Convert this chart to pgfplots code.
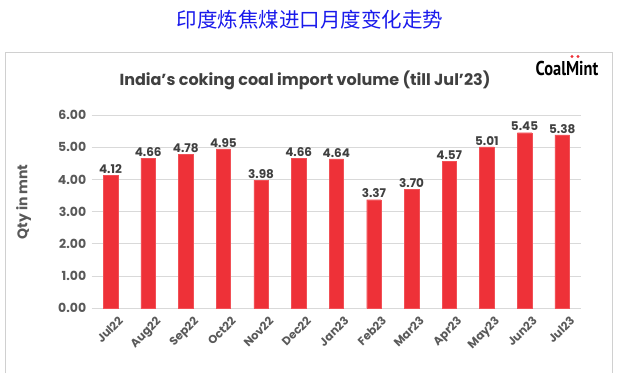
\documentclass[border=0pt]{standalone}
\usepackage{pgfplots}
\pgfplotsset{compat=1.18}
\usepackage{fontspec}
\setmainfont{Poppins}
\newfontfamily\cjk{Noto Sans CJK SC}
\newfontfamily\logofont{PT Sans}
\definecolor{barred}{HTML}{EE3138}
\definecolor{txtgray}{HTML}{404040}
\definecolor{tickgray}{HTML}{595959}
\definecolor{gridgray}{HTML}{D9D9D9}
\definecolor{boxgray}{HTML}{D0D0D0}
\definecolor{titleblue}{RGB}{25,25,235}
\begin{document}
\begin{tikzpicture}[x=1pt,y=1pt]
\path[use as bounding box] (0,0) rectangle (625,389);
\node[font=\cjk\fontsize{20.5}{24}\selectfont, text=titleblue] at (310,369) {印度炼焦煤进口月度变化走势};
\draw[boxgray, line width=0.8pt] (5,16) -- (5,337) -- (612,337) -- (612,16);
\node[font=\fontsize{16}{19}\selectfont\bfseries, text=txtgray] at (305,309) {India’s coking coal import volume (till Jul’23)};
\node[font=\logofont\bfseries\fontsize{20}{22}\selectfont, text=black, xscale=0.82] at (567,320) {CoalMint};
\fill[barred] (572,332.5) circle (1.6);
\fill[barred] (578,332.5) circle (1.6);
\begin{axis}[
  at={(91.7pt,80.7pt)}, anchor=south west,
  scale only axis, width=489.3pt, height=193.3pt,
  xmin=-0.5, xmax=12.5,
  ymin=0, ymax=6,
  ytick={0,1,2,3,4,5,6},
  xtick={0,...,12},
  xticklabels={Jul22,Aug22,Sep22,Oct22,Nov22,Dec22,Jan23,Feb23,Mar23,Apr23,May23,Jun23,Jul23},
  axis line style={draw=none},
  tick style={draw=none},
  ymajorgrids, grid style={gridgray, line width=0.9pt},
  /pgf/number format/assume math mode=true,
  yticklabel style={/pgf/number format/.cd, fixed, fixed zerofill, precision=2, /tikz/.cd,
     font=\fontsize{12.5}{14}\selectfont\bfseries, text=tickgray, xshift=-2pt},
  xticklabel style={rotate=45, anchor=north east, font=\fontsize{11.5}{13}\selectfont\bfseries, text=tickgray, inner sep=1pt, yshift=-6pt, xshift=4pt},
  ylabel={Qty in mnt},
  ylabel style={font=\fontsize{14}{16}\selectfont\bfseries, text=tickgray, at={(axis description cs:-0.1165,0.55)}},
  ybar, bar width=14.5pt,
  nodes near coords,
  nodes near coords style={/pgf/number format/.cd, fixed, fixed zerofill, precision=2, /tikz/.cd,
     font=\fontsize{12}{14}\selectfont\bfseries, text=txtgray, inner sep=1.5pt},
  clip=false,
]
\addplot[fill=barred, draw=barred!85!white] coordinates {
(0,4.12) (1,4.66) (2,4.78) (3,4.95) (4,3.98) (5,4.66) (6,4.64)
(7,3.37) (8,3.70) (9,4.57) (10,5.01) (11,5.45) (12,5.38)};
\end{axis}
\end{tikzpicture}
\end{document}
